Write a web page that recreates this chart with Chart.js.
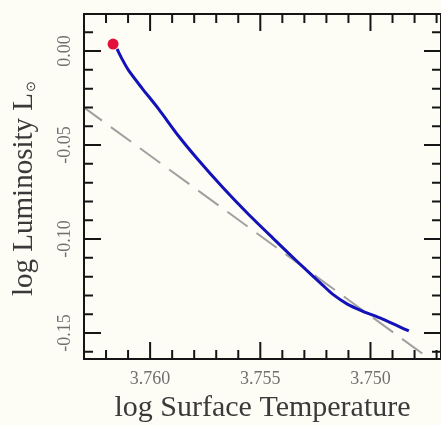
<!DOCTYPE html>
<html>
<head>
<meta charset="utf-8">
<script src="https://cdn.jsdelivr.net/npm/chart.js@4.4.1/dist/chart.umd.min.js"></script>
<style>
  body { margin: 0; background: #fdfdf6; }
  #wrap { width: 441px; height: 425px; }
</style>
</head>
<body>
<div id="wrap"><canvas id="grafico" width="441" height="425"></canvas></div>
<script>
// track of the star (log Teff, log L)
const trackTemp = [3.76150, 3.76127, 3.76096, 3.76037, 3.75961, 3.75871, 3.75781, 3.75668,
  3.75555, 3.75443, 3.75330, 3.75217, 3.75172, 3.75105, 3.75037, 3.74947, 3.74826];
const trackLum = [0.0011, -0.0043, -0.0106, -0.0197, -0.0309, -0.0452, -0.0580, -0.0729,
  -0.0867, -0.0995, -0.1122, -0.1245, -0.1293, -0.1346, -0.1383, -0.1425, -0.1489];

// starting point (red dot)
const startTemp = [3.76168];
const startLum = [0.0037];

// reference line (dashed)
const refTemp = [3.7631, 3.7467];
const refLum = [-0.0292, -0.1690];

// ticks
const xTickLabels = [3.760, 3.755, 3.750];
const yTickLabels = [0.00, -0.05, -0.10, -0.15];

const toPoints = (xs, ys) => xs.map((x, i) => ({x: x, y: ys[i]}));

const serif = "'Liberation Serif', 'Times New Roman', serif";

const marcoPlugin = {
  id: 'marco',
  beforeDraw(chart) {
    const ctx = chart.ctx;
    ctx.save();
    ctx.fillStyle = '#fdfdf6';
    ctx.fillRect(0, 0, chart.width, chart.height);
    ctx.restore();
  },
  afterDraw(chart) {
    const {ctx, chartArea: a, scales: {x, y}} = chart;
    ctx.save();
    ctx.strokeStyle = '#151515';
    ctx.lineWidth = 2;
    ctx.strokeRect(a.left, a.top, a.right - a.left, a.bottom - a.top);

    // inward ticks on all four sides
    ctx.beginPath();
    for (let k = 3746; k <= 3764; k++) {
      const px = x.getPixelForValue(k / 1000);
      if (px < a.left + 2 || px > a.right - 1) continue;
      const len = k % 5 === 0 ? 17 : 9;
      ctx.moveTo(px, a.bottom); ctx.lineTo(px, a.bottom - len);
      ctx.moveTo(px, a.top); ctx.lineTo(px, a.top + len);
    }
    for (let k = -17; k <= 2; k++) {
      const py = y.getPixelForValue(k / 100);
      if (py < a.top + 2 || py > a.bottom - 2) continue;
      const len = k % 5 === 0 ? 17 : 9;
      ctx.moveTo(a.left, py); ctx.lineTo(a.left + len, py);
      ctx.moveTo(a.right, py); ctx.lineTo(a.right - len, py);
    }
    ctx.stroke();

    // y tick labels, rotated
    ctx.fillStyle = '#707070';
    ctx.font = '18px ' + serif;
    ctx.textAlign = 'center';
    ctx.textBaseline = 'middle';
    yTickLabels.forEach(v => {
      const py = y.getPixelForValue(v);
      ctx.save();
      ctx.translate(a.left - 19, py);
      ctx.rotate(-Math.PI / 2);
      ctx.fillText(v.toFixed(2), 0, 0);
      ctx.restore();
    });

    // y title with subscript sun symbol
    const main = 'log Luminosity L';
    const sub = '\u2299';
    ctx.font = '29px ' + serif;
    const wMain = ctx.measureText(main).width;
    ctx.font = '13px ' + serif;
    const wSub = ctx.measureText(sub).width;
    ctx.save();
    ctx.translate(32, (a.top + a.bottom) / 2 + 2);
    ctx.rotate(-Math.PI / 2);
    ctx.fillStyle = '#3a3a3a';
    ctx.textAlign = 'left';
    ctx.textBaseline = 'alphabetic';
    const start = -(wMain + wSub + 1) / 2;
    ctx.font = '29px ' + serif;
    ctx.fillText(main, start, 0);
    ctx.font = '13px ' + serif;
    ctx.fillText(sub, start + wMain + 1, 3);
    ctx.restore();
    ctx.restore();
  }
};

const config = {
  type: 'scatter',
  data: {
    datasets: [
      {
        label: 'start',
        data: toPoints(startTemp, startLum),
        pointRadius: 5.5,
        pointBackgroundColor: '#e3103c',
        pointBorderWidth: 0,
        order: 0
      },
      {
        label: 'track',
        data: toPoints(trackTemp, trackLum),
        showLine: true,
        borderColor: '#1212b8',
        borderWidth: 3,
        pointRadius: 0,
        tension: 0.25,
        order: 1
      },
      {
        label: 'reference',
        data: toPoints(refTemp, refLum),
        showLine: true,
        borderColor: '#a0a0a0',
        borderWidth: 2,
        borderDash: [25, 11],
        pointRadius: 0,
        order: 2
      }
    ]
  },
  options: {
    responsive: false,
    animation: false,
    layout: {autoPadding: false, padding: {top: 14, right: 0, left: 0, bottom: 0}},
    plugins: {
      legend: {display: false},
      tooltip: {enabled: false}
    },
    scales: {
      x: {
        type: 'linear',
        position: 'bottom',
        reverse: true,
        min: 3.7468,
        max: 3.7630,
        afterBuildTicks: scale => { scale.ticks = xTickLabels.map(v => ({value: v})); },
        afterFit: scale => { scale.height = 66; },
        grid: {display: false, drawTicks: false},
        border: {display: false},
        ticks: {
          padding: 9,
          maxRotation: 0,
          autoSkip: false,
          color: '#707070',
          font: {family: serif, size: 18},
          callback: v => Number(v).toFixed(3)
        },
        title: {
          display: true,
          text: 'log Surface Temperature',
          color: '#3a3a3a',
          padding: 0,
          font: {family: serif, size: 30, lineHeight: 1.1}
        }
      },
      y: {
        type: 'linear',
        min: -0.1638,
        max: 0.0197,
        afterBuildTicks: scale => { scale.ticks = yTickLabels.map(v => ({value: v})); },
        afterFit: scale => { scale.width = 84; },
        grid: {display: false, drawTicks: false},
        border: {display: false},
        ticks: {display: false}
      }
    }
  },
  plugins: [marcoPlugin]
};

new Chart(document.getElementById('grafico'), config);
</script>
</body>
</html>
